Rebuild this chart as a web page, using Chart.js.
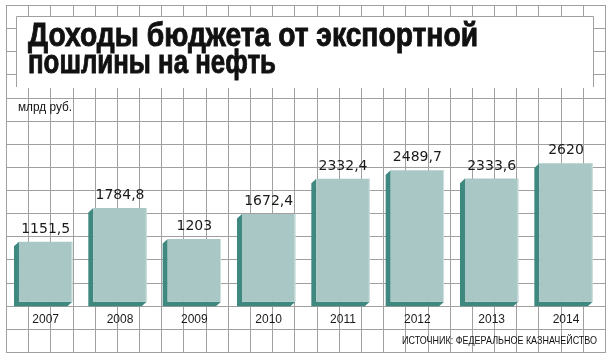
<!DOCTYPE html>
<html><head><meta charset="utf-8">
<script src="https://cdn.jsdelivr.net/npm/chart.js@4"></script>
<style>
html,body{margin:0;padding:0;background:#fff;}
#wrap{position:relative;width:611px;height:361px;overflow:hidden;}
#c{position:absolute;left:0;top:0;}
.t{position:absolute;white-space:nowrap;transform-origin:0 0;line-height:1;color:#111;font-family:"Liberation Sans",Arial,sans-serif;}
.title{font-weight:bold;font-size:33px;-webkit-text-stroke:0.9px #111;}
</style></head><body>
<div id="wrap">
<canvas id="c" width="611" height="361"></canvas>
<div class="t title" data-w="450" style="left:28.3px;top:18.1px">Доходы бюджета от экспортной</div>
<div class="t title" data-w="248" style="left:28.3px;top:45.1px">пошлины на нефть</div>
<div class="t" data-w="54" style="left:17.7px;top:101px;font-size:12.6px;">млрд руб.</div>
<div class="t" data-w="195" style="left:401.7px;top:334.5px;font-size:11.2px;">ИСТОЧНИК: ФЕДЕРАЛЬНОЕ КАЗНАЧЕЙСТВО</div>
</div>
<script>
const years = ["2007","2008","2009","2010","2011","2012","2013","2014"];
const revenue = [1151.5, 1784.8, 1203, 1672.4, 2332.4, 2489.7, 2333.6, 2620];

const FRONT = "#a8c7c5", SIDE = "#3f887f", GRID = "#a0a0a0";

function fitTexts(){
  document.querySelectorAll('[data-w]').forEach(el=>{
    el.style.transform='none';
    const w = el.getBoundingClientRect().width;
    const target = parseFloat(el.dataset.w);
    if (w>0) el.style.transform = 'scaleX(' + (target/w) + ')';
  });
}
fitTexts();
if (document.fonts && document.fonts.ready) document.fonts.ready.then(fitTexts);

const backdrop = {
  id: 'backdrop',
  beforeDraw(chart){
    const ctx = chart.ctx;
    ctx.save();
    ctx.fillStyle = '#fff';
    ctx.fillRect(0,0,chart.width,chart.height);
    ctx.strokeStyle = GRID; ctx.lineWidth = 1;
    const x0=6, x1=605, y0=5, y1=352, nx=27, ny=15;
    ctx.beginPath();
    for(let i=0;i<=nx;i++){ const x=Math.round(x0+(x1-x0)*i/nx)+0.5; ctx.moveTo(x,y0); ctx.lineTo(x,y1+0.5); }
    for(let j=0;j<=ny;j++){ const y=Math.round(y0+(y1-y0)*j/ny)+0.5; ctx.moveTo(x0,y); ctx.lineTo(x1+1,y); }
    ctx.stroke();
    // title panel
    ctx.fillStyle='#fff';
    ctx.fillRect(16,16,578,72);
    ctx.beginPath();
    ctx.moveTo(16.5,87); ctx.lineTo(16.5,16.5); ctx.lineTo(593.5,16.5); ctx.lineTo(593.5,87);
    ctx.stroke();
    ctx.restore();
  },
  beforeDatasetsDraw(chart){
    const ctx = chart.ctx;
    const meta = chart.getDatasetMeta(0);
    ctx.save();
    ctx.fillStyle = SIDE;
    meta.data.forEach(bar=>{
      const p = bar.getProps(['x','y','base','width'], true);
      const L=p.x-p.width/2, R=p.x+p.width/2, T=p.y, B=p.base, dx=5, dy=4.6;
      ctx.beginPath();
      ctx.moveTo(L,T); ctx.lineTo(L-dx,T+dy); ctx.lineTo(L-dx,B+dy);
      ctx.lineTo(R-dx,B+dy); ctx.lineTo(R,B); ctx.lineTo(L,B); ctx.closePath();
      ctx.fill();
    });
    ctx.restore();
  },
  afterDatasetsDraw(chart){
    const ctx = chart.ctx;
    const meta = chart.getDatasetMeta(0);
    const ds = chart.data.datasets[0].data;
    ctx.save();
    meta.data.forEach((bar,i)=>{
      const p = bar.getProps(['x','y','base','width'], true);
      const R=p.x+p.width/2;
      ctx.strokeStyle='#cfe1df'; ctx.lineWidth=1;
      ctx.beginPath(); ctx.moveTo(R-0.5,p.y); ctx.lineTo(R-0.5,p.base); ctx.stroke();
      ctx.fillStyle='#1a1a1a';
      ctx.textAlign='center'; ctx.textBaseline='alphabetic';
      ctx.font='14px "DejaVu Sans", sans-serif';
      ctx.fillText(String(ds[i]).replace('.',','), p.x, p.y-9);
      ctx.font='12px "Liberation Sans", Arial, sans-serif';
      ctx.fillText(chart.data.labels[i], p.x, p.base+21);
    });
    ctx.restore();
  }
};

new Chart(document.getElementById('c'), {
  type:'bar',
  data:{ labels: years, datasets:[{ data: revenue, backgroundColor: FRONT, borderWidth:0, base: 28,
    categoryPercentage:1, barPercentage:0.718 }]},
  options:{
    responsive:false, animation:false,
    layout:{ padding:{ left:8.5, right:7.8, top:143, bottom:57.8 } },
    plugins:{ legend:{display:false}, tooltip:{enabled:false}, title:{display:false} },
    scales:{
      x:{ display:false },
      y:{ display:false, min:0, max:3000 }
    }
  },
  plugins:[backdrop]
});
</script>
</body></html>
